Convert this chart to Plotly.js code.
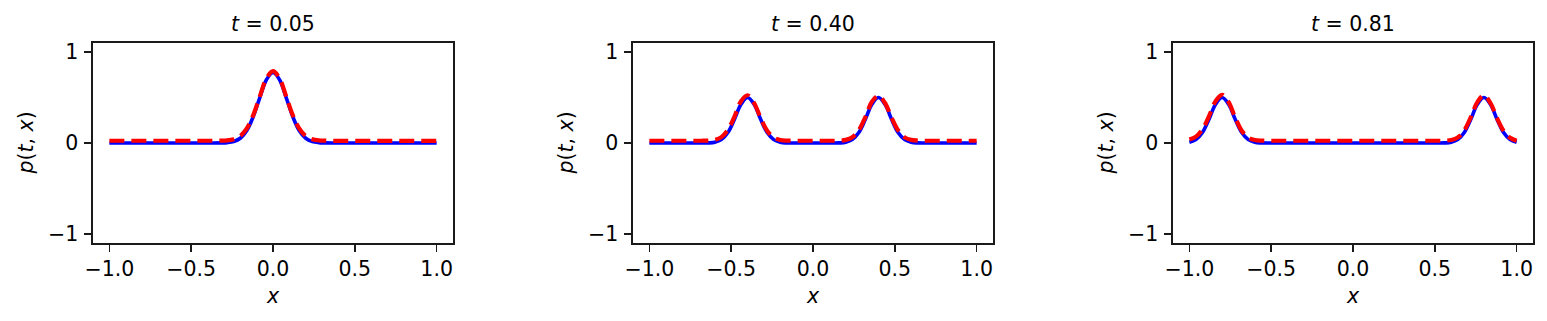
<!DOCTYPE html>
<html>
<head>
<meta charset="utf-8">
<script src="https://cdn.plot.ly/plotly-3.0.1.min.js"></script>
<style>
  html, body { margin: 0; padding: 0; background: #fff; }
  #gd { width: 1547px; height: 321px; }
</style>
</head>
<body>
<div id="gd"></div>
<script>
// shared x grid (step 0.04)
var xGrid = [-1, -0.96, -0.92, -0.88, -0.84, -0.8, -0.76, -0.72, -0.68, -0.64,
  -0.6, -0.56, -0.52, -0.48, -0.44, -0.4, -0.36, -0.32, -0.28, -0.24,
  -0.2, -0.16, -0.12, -0.08, -0.04, 0, 0.04, 0.08, 0.12, 0.16,
  0.2, 0.24, 0.28, 0.32, 0.36, 0.4, 0.44, 0.48, 0.52, 0.56,
  0.6, 0.64, 0.68, 0.72, 0.76, 0.8, 0.84, 0.88, 0.92, 0.96, 1];

var panelTimes = ["0.05", "0.40", "0.81"];

// exact solution (blue)
var exact1 = [0, 0, 0, 0, 0, 0, 0, 0, 0, 0, 0, 0, 0, 0, 0, 0, 0,
  0.001, 0.004, 0.016, 0.052, 0.137, 0.293, 0.503, 0.696, 0.775,
  0.696, 0.503, 0.293, 0.137, 0.052, 0.016, 0.004, 0.001,
  0, 0, 0, 0, 0, 0, 0, 0, 0, 0, 0, 0, 0, 0, 0, 0, 0];
var exact2 = [0, 0, 0, 0, 0, 0, 0, 0, 0,
  0.001, 0.008, 0.037, 0.115, 0.26, 0.425, 0.5, 0.425, 0.26, 0.115, 0.037, 0.008, 0.001,
  0, 0, 0, 0, 0, 0, 0,
  0.001, 0.008, 0.037, 0.115, 0.26, 0.425, 0.5, 0.425, 0.26, 0.115, 0.037, 0.008, 0.001,
  0, 0, 0, 0, 0, 0, 0, 0, 0];
var exact3 = [0.008, 0.037, 0.115, 0.26, 0.425, 0.5, 0.425, 0.26, 0.115, 0.037, 0.008, 0.001,
  0, 0, 0, 0, 0, 0, 0, 0, 0, 0, 0, 0, 0, 0, 0, 0, 0, 0, 0, 0, 0, 0, 0, 0, 0, 0, 0,
  0.001, 0.008, 0.037, 0.115, 0.26, 0.425, 0.5, 0.425, 0.26, 0.115, 0.037, 0.008];

// predicted (red dashed)
var pred1 = [0.025, 0.025, 0.025, 0.025, 0.025, 0.025, 0.025, 0.025, 0.025, 0.025,
  0.025, 0.025, 0.025, 0.025, 0.025, 0.025, 0.025,
  0.026, 0.029, 0.042, 0.076, 0.16, 0.31, 0.515, 0.71, 0.79,
  0.71, 0.515, 0.31, 0.16, 0.076, 0.042, 0.029, 0.026,
  0.024, 0.024, 0.024, 0.024, 0.024, 0.024, 0.024, 0.024, 0.024, 0.024,
  0.024, 0.024, 0.024, 0.024, 0.024, 0.024, 0.024];
var pred2 = [0.025, 0.025, 0.025, 0.025, 0.025, 0.025, 0.025, 0.025, 0.025,
  0.027, 0.035, 0.065, 0.145, 0.29, 0.46, 0.525, 0.44, 0.275, 0.135, 0.06, 0.033, 0.026,
  0.025, 0.025, 0.025, 0.025, 0.025, 0.025, 0.025,
  0.026, 0.034, 0.063, 0.142, 0.285, 0.455, 0.52, 0.44, 0.28, 0.14, 0.062, 0.034, 0.027,
  0.025, 0.025, 0.025, 0.025, 0.025, 0.025, 0.025, 0.025, 0.025];
var pred3 = [0.038, 0.07, 0.15, 0.295, 0.46, 0.53, 0.45, 0.28, 0.135, 0.06, 0.033, 0.026,
  0.025, 0.025, 0.025, 0.025, 0.025, 0.025, 0.025, 0.025, 0.025, 0.025, 0.025, 0.025, 0.025,
  0.025, 0.025, 0.025, 0.025, 0.025, 0.025, 0.025, 0.025, 0.025, 0.025, 0.025, 0.025, 0.025, 0.025,
  0.026, 0.033, 0.06, 0.14, 0.285, 0.45, 0.525, 0.44, 0.275, 0.135, 0.058, 0.024];

var xTickVals = [-1, -0.5, 0, 0.5, 1];
var xTickText = ["\u22121.0", "\u22120.5", "0.0", "0.5", "1.0"];
var yTickVals = [-1, 0, 1];
var yTickText = ["\u22121", "0", "1"];

var exactSeries = [exact1, exact2, exact3];
var predSeries = [pred1, pred2, pred3];

var W = 1547, H = 321;
// plot boxes in px (left, right), shared top/bottom
var boxes = [[93, 453], [633, 993], [1173, 1533]];
var boxTop = 43, boxBottom = 243;
var yDom = [(H - boxBottom) / H, (H - boxTop) / H];

var FONT = "DejaVu Sans";
var FS = 20.5;

var traces = [];
var layout = {
  width: W,
  height: H,
  margin: {l: 0, r: 0, t: 0, b: 0},
  paper_bgcolor: "#fff",
  plot_bgcolor: "#fff",
  showlegend: false,
  font: {family: FONT, size: FS, color: "#000"},
  annotations: []
};

for (var i = 0; i < 3; i++) {
  var sfx = i === 0 ? "" : String(i + 1);
  var xa = "x" + sfx, ya = "y" + sfx;

  traces.push({
    type: "scatter", mode: "lines", x: xGrid, y: exactSeries[i],
    xaxis: xa, yaxis: ya,
    line: {color: "#0000ff", width: 3.6, shape: "spline", smoothing: 1}
  });
  traces.push({
    type: "scatter", mode: "lines", x: xGrid, y: predSeries[i],
    xaxis: xa, yaxis: ya,
    line: {color: "#ff0000", width: 4.2, dash: "15px,7px", shape: "spline", smoothing: 1}
  });

  var xDom = [boxes[i][0] / W, boxes[i][1] / W];
  var common = {
    showline: true, mirror: true, linecolor: "#1a1a1a", linewidth: 1.6,
    ticks: "outside", ticklen: 7, tickwidth: 1.6, tickcolor: "#1a1a1a",
    showgrid: false, zeroline: false, fixedrange: true,
    tickfont: {family: FONT, size: FS, color: "#000"}
  };
  layout["xaxis" + sfx] = Object.assign({}, common, {
    domain: xDom, anchor: ya, range: [-1.1, 1.1],
    tickmode: "array", tickvals: xTickVals, ticktext: xTickText
  });
  layout["yaxis" + sfx] = Object.assign({}, common, {
    domain: yDom, anchor: xa, range: [-1.1, 1.1],
    tickmode: "array", tickvals: yTickVals, ticktext: yTickText,
    ticklabelstandoff: 2
  });

  var cx = (xDom[0] + xDom[1]) / 2;
  // panel title
  layout.annotations.push({
    xref: "paper", yref: "paper", x: cx, y: yDom[1], xanchor: "center", yanchor: "bottom",
    yshift: 5, showarrow: false,
    text: "<i>t</i> = " + panelTimes[i],
    font: {family: FONT, size: FS, color: "#000"}
  });
  // x label
  layout.annotations.push({
    xref: "paper", yref: "paper", x: cx, y: (H - 295.5) / H, xanchor: "center", yanchor: "middle",
    showarrow: false, text: "<i>x</i>",
    font: {family: FONT, size: FS, color: "#000"}
  });
  // y label
  layout.annotations.push({
    xref: "paper", yref: "paper", x: (boxes[i][0] - 67.5) / W, y: (yDom[0] + yDom[1]) / 2,
    xanchor: "center", yanchor: "middle", textangle: -90,
    showarrow: false, text: "<i>p</i>(<i>t</i>, <i>x</i>)",
    font: {family: FONT, size: FS, color: "#000"}
  });
}

Plotly.newPlot("gd", traces, layout, {staticPlot: true, displayModeBar: false});
</script>
</body>
</html>
